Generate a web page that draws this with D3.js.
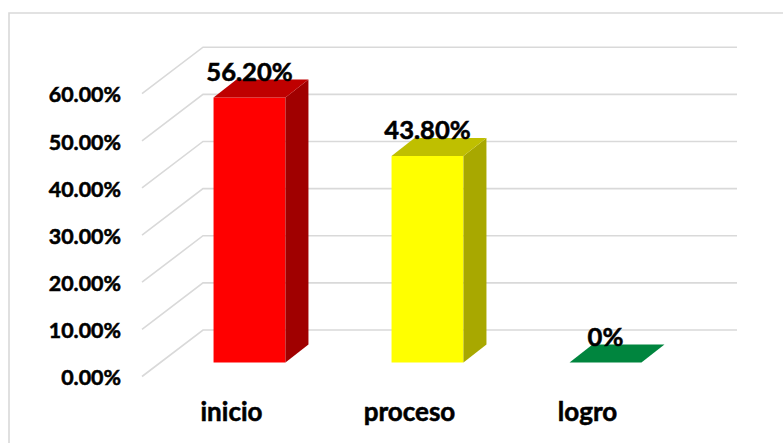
<!DOCTYPE html>
<html><head><meta charset="utf-8">
<script src="https://cdn.jsdelivr.net/npm/d3@7/dist/d3.min.js"></script>
<style>html,body{margin:0;padding:0;background:#fff}svg{display:block}text{font-family:Lato,"Open Sans",sans-serif;font-weight:700;fill:#000;stroke:#000;stroke-width:.55px}</style>
</head><body><svg id="c" width="783" height="443"></svg>
<script>
const categories = ["inicio","proceso","logro"];
const values = [56.2,43.8,0];
const valueLabels = ["56.20%","43.80%","0%"];
const ticks = [0,10,20,30,40,50,60];
const faceColors = ["#ff0000","#ffff00","#00853e"];
const topColors = ["#bf0000","#bfbf00","#00853e"];
const sideColors = ["#a00000","#a8a800","#00853e"];

const svg = d3.select("#c");
const depth = {x:61,y:-46.5};
const barDepth = {x:23,y:-18};
const y = d3.scaleLinear().domain([0,60]).range([376.5,93.7]);
const x = d3.scaleBand().domain(categories).range([160.5,694.5]).paddingInner(0.596).paddingOuter(0.298);
const barBase = 362.5;
const h = v => y(0)-y(v);

svg.append("path").attr("d","M9,443V13H783")
  .attr("fill","none").attr("stroke","#d9d9d9").attr("stroke-width",1.6);

const grid = svg.append("g").attr("fill","none").attr("stroke","#d9d9d9").attr("stroke-width",1.6);
ticks.forEach(t=>{
  const p = d3.path();
  p.moveTo(142,y(t));
  p.lineTo(142+depth.x,y(t)+depth.y);
  p.lineTo(737,y(t)+depth.y);
  grid.append("path").attr("d",p.toString());
});

svg.append("g").selectAll("text").data(ticks).join("text")
  .attr("x",121).attr("y",t=>y(t)+1.2).attr("dy","0.35em").attr("text-anchor","end")
  .attr("font-size",21.4).text(t=>d3.format(".2f")(t)+"%");

const poly = pts => d3.line()(pts)+"Z";
const bars = svg.append("g");
categories.forEach((c,i)=>{
  const l=x(c), r=l+x.bandwidth(), b=barBase, t=barBase-h(values[i]);
  const dx=barDepth.x, dy=barDepth.y;
  if(values[i]>0){
    bars.append("path").attr("d",poly([[l,b],[r,b],[r,t],[l,t]])).attr("fill",faceColors[i]);
    bars.append("path").attr("d",poly([[r,b],[r+dx,b+dy],[r+dx,t+dy],[r,t]])).attr("fill",sideColors[i]);
  }
  bars.append("path").attr("d",poly([[l,t],[r,t],[r+dx,t+dy],[l+dx,t+dy]])).attr("fill",topColors[i]);
});

svg.append("g").selectAll("text").data(categories).join("text")
  .attr("x",c=>x(c)+x.bandwidth()/2).attr("y",(c,i)=>barBase-h(values[i])-17)
  .attr("text-anchor","middle").attr("font-size",25.6).text((c,i)=>valueLabels[i]);

svg.append("g").selectAll("text").data(categories).join("text")
  .attr("x",c=>x(c)+x.bandwidth()/2-18).attr("y",421)
  .attr("text-anchor","middle").attr("font-size",26).text(c=>c);
</script></body></html>
